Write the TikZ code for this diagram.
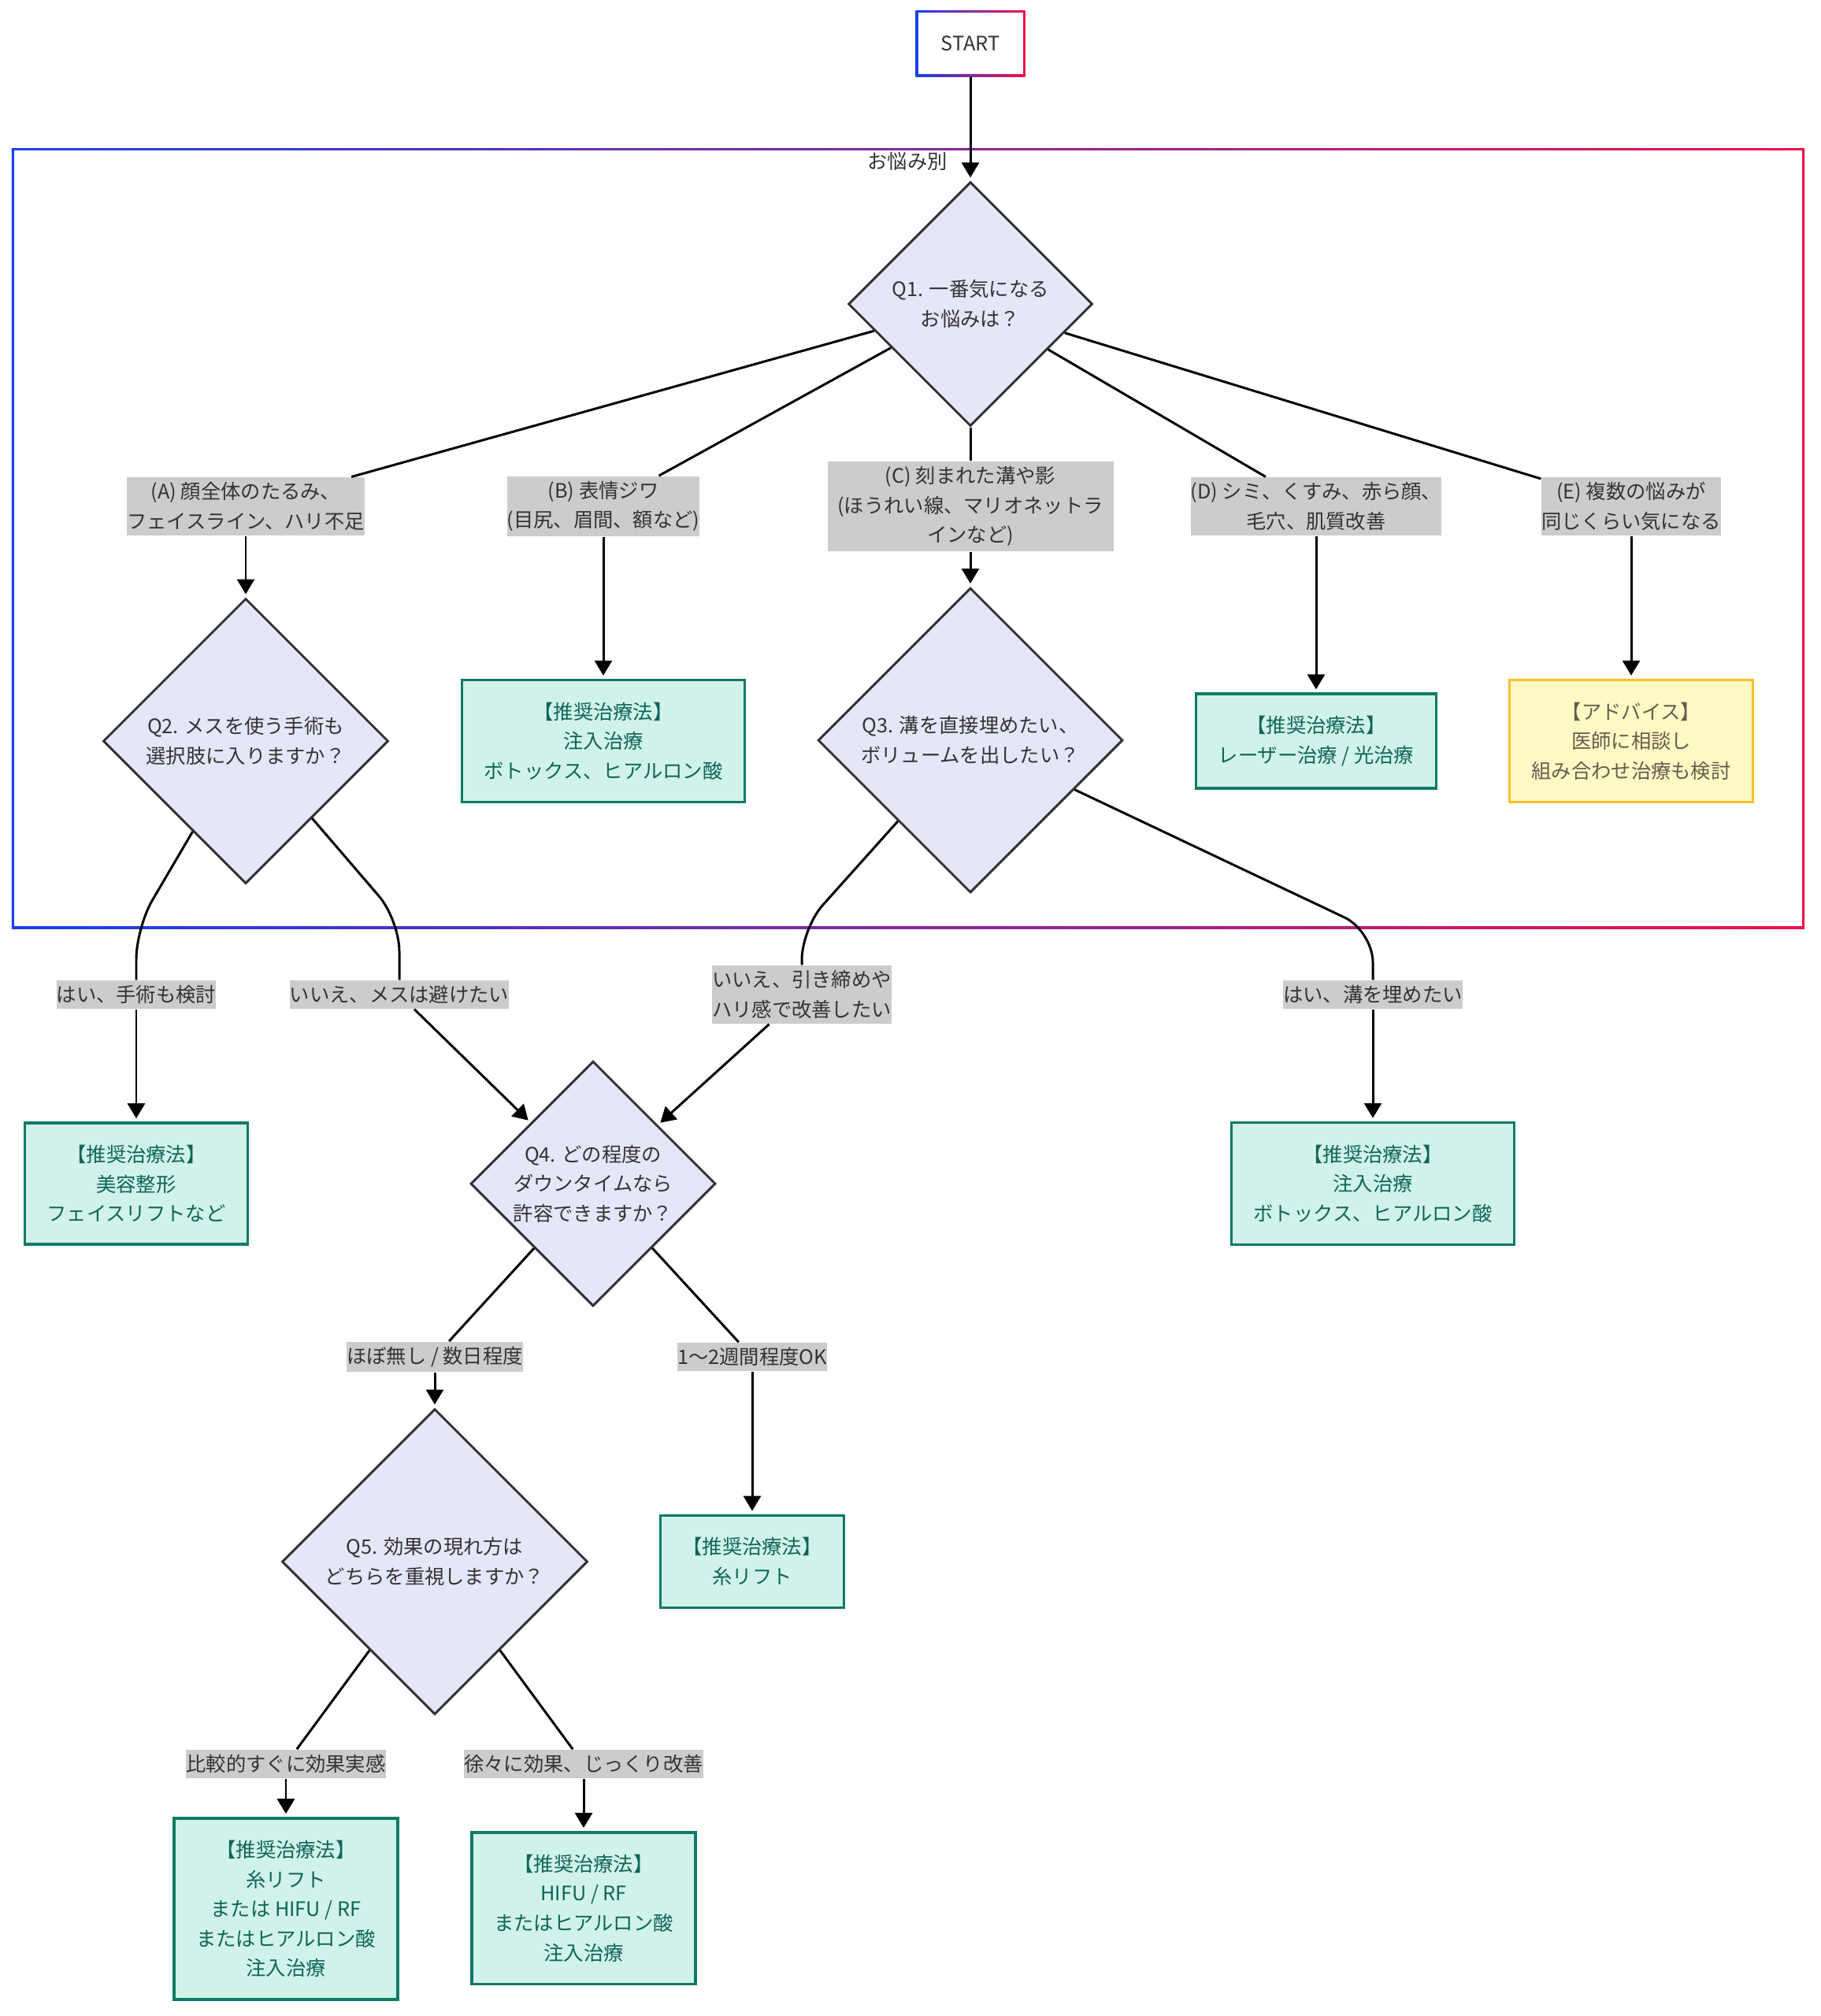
\documentclass[tikz,border=0pt]{standalone}
\usepackage{fontspec}
\setmainfont{Noto Sans CJK JP}
\usetikzlibrary{arrows.meta,shapes.geometric}
\definecolor{gblue}{HTML}{1A3FF0}
\definecolor{gred}{HTML}{F0104A}
\definecolor{qfill}{HTML}{E6E6FA}
\definecolor{qline}{HTML}{333333}
\definecolor{tfill}{HTML}{D1F2EB}
\definecolor{tline}{HTML}{117A65}
\definecolor{ttext}{HTML}{0E6655}
\definecolor{afill}{HTML}{FFF9C4}
\definecolor{aline}{HTML}{FBC02D}
\definecolor{atext}{HTML}{6B5A4E}
\definecolor{lfill}{HTML}{CCCCCC}
\definecolor{dtext}{HTML}{333333}

\begin{document}
\begin{tikzpicture}[
    font=\fontsize{7.2pt}{10.7pt}\selectfont,
    gradbox/.style={inner sep=0pt, text=dtext, path picture={
        \shade[left color=gblue, right color=gred] (path picture bounding box.south west) rectangle (path picture bounding box.north east);
        \fill[white] ([shift={(0.03,0.03)}]path picture bounding box.south west) rectangle ([shift={(-0.03,-0.03)}]path picture bounding box.north east);}},
    qnode/.style={diamond, aspect=1, draw=qline, line width=0.85pt, fill=qfill, text=dtext, align=center, inner sep=0pt},
    lbl/.style={fill=lfill, text=dtext, align=center, inner xsep=0pt, inner ysep=1.8pt},
    treat/.style={draw=tline, line width=1pt, fill=tfill, text=ttext, align=center, inner sep=8pt},
    advice/.style={draw=aline, line width=1pt, fill=afill, text=atext, align=center, inner sep=8pt},
    flow/.style={line width=0.85pt, black},
    flowarr/.style={flow, -{Triangle[length=0.19cm, width=0.22cm]}, shorten >=0.04cm}
]
    \useasboundingbox (0,0) rectangle (23.11,-25.60);

    \node[gradbox, minimum width=1.39cm, minimum height=0.84cm] (start) at (12.32,-0.55) {START};
    \node[gradbox, minimum width=22.76cm, minimum height=9.91cm] (grp) at (11.53,-6.835) {};
    \node[text=dtext] (grplbl) at (11.52,-2.05) {お悩み別};

    \node[qnode, minimum size=3.1cm] (q1) at (12.32,-3.86) {Q1. 一番気になる\\お悩みは？};

    \node[lbl] (lA) at (3.12,-6.43) {(A) 顔全体のたるみ、\\フェイスライン、ハリ不足};
    \node[lbl] (lB) at (7.66,-6.43) {(B) 表情ジワ\\(目尻、眉間、額など)};
    \node[lbl, minimum width=3.63cm] (lC) at (12.32,-6.43) {(C) 刻まれた溝や影\\(ほうれい線、マリオネットラ\\インなど)};
    \node[lbl] (lD) at (16.71,-6.43) {(D) シミ、くすみ、赤ら顔、\\毛穴、肌質改善};
    \node[lbl] (lE) at (20.71,-6.43) {(E) 複数の悩みが\\同じくらい気になる};

    \node[qnode, minimum size=3.62cm] (q2) at (3.12,-9.41) {Q2. メスを使う手術も\\選択肢に入りますか？};
    \node[treat] (rB) at (7.66,-9.41) {【推奨治療法】\\注入治療\\ボトックス、ヒアルロン酸};
    \node[qnode, minimum size=3.87cm] (q3) at (12.32,-9.40) {Q3. 溝を直接埋めたい、\\ボリュームを出したい？};
    \node[treat] (rD) at (16.71,-9.41) {【推奨治療法】\\レーザー治療 / 光治療};
    \node[advice] (rE) at (20.71,-9.41) {【アドバイス】\\医師に相談し\\組み合わせ治療も検討};

    \node[lbl] (lYes2) at (1.73,-12.63) {はい、手術も検討};
    \node[lbl] (lNo2) at (5.07,-12.63) {いいえ、メスは避けたい};
    \node[lbl] (lNo3) at (10.18,-12.63) {いいえ、引き締めや\\ハリ感で改善したい};
    \node[lbl] (lYes3) at (17.43,-12.63) {はい、溝を埋めたい};

    \node[treat] (rSurg) at (1.73,-15.03) {【推奨治療法】\\美容整形\\フェイスリフトなど};
    \node[qnode, minimum size=3.11cm] (q4) at (7.53,-15.03) {Q4. どの程度の\\ダウンタイムなら\\許容できますか？};
    \node[treat] (rFill) at (17.43,-15.03) {【推奨治療法】\\注入治療\\ボトックス、ヒアルロン酸};

    \node[lbl] (lQ4a) at (5.52,-17.23) {ほぼ無し / 数日程度};
    \node[lbl] (lQ4b) at (9.55,-17.23) {1〜2週間程度OK};

    \node[qnode, minimum size=3.88cm] (q5) at (5.52,-19.83) {Q5. 効果の現れ方は\\どちらを重視しますか？};
    \node[treat] (rThread) at (9.55,-19.83) {【推奨治療法】\\糸リフト};

    \node[lbl] (lQ5a) at (3.63,-22.40) {比較的すぐに効果実感};
    \node[lbl] (lQ5b) at (7.41,-22.40) {徐々に効果、じっくり改善};

    \node[treat] (rQ5a) at (3.63,-24.24) {【推奨治療法】\\糸リフト\\または HIFU / RF\\またはヒアルロン酸\\注入治療};
    \node[treat] (rQ5b) at (7.41,-24.23) {【推奨治療法】\\HIFU / RF\\またはヒアルロン酸\\注入治療};

    \coordinate (c2y) at (1.73,-11.78);
    \coordinate (c2n) at (5.07,-11.68);
    \coordinate (c3n) at (10.18,-11.79);
    \coordinate (c3y) at (17.43,-11.82);

    \draw[flowarr] (start) -- (q1);

    \draw[flow] (q1) -- (lA);
    \draw[flowarr] (lA) -- (q2);
    \draw[flow] (q1) -- (lB);
    \draw[flowarr] (lB) -- (rB);
    \draw[flow] (q1) -- (lC);
    \draw[flowarr] (lC) -- (q3);
    \draw[flow] (q1) -- (lD);
    \draw[flowarr] (lD) -- (rD);
    \draw[flow] (q1) -- (lE);
    \draw[flowarr] (lE) -- (rE);

    \draw[flow, rounded corners=0.4cm] (q2) -- (c2y) -- (lYes2);
    \draw[flowarr] (lYes2) -- (rSurg);
    \draw[flow, rounded corners=0.4cm] (q2) -- (c2n) -- (lNo2);
    \draw[flowarr] (lNo2) -- (q4);
    \draw[flow, rounded corners=0.4cm] (q3) -- (c3n) -- (lNo3);
    \draw[flowarr] (lNo3) -- (q4);
    \draw[flow, rounded corners=0.4cm] (q3) -- (c3y) -- (lYes3);
    \draw[flowarr] (lYes3) -- (rFill);

    \draw[flow] (q4) -- (lQ4a);
    \draw[flowarr] (lQ4a) -- (q5);
    \draw[flow] (q4) -- (lQ4b);
    \draw[flowarr] (lQ4b) -- (rThread);

    \draw[flow] (q5) -- (lQ5a);
    \draw[flowarr] (lQ5a) -- (rQ5a);
    \draw[flow] (q5) -- (lQ5b);
    \draw[flowarr] (lQ5b) -- (rQ5b);
\end{tikzpicture}
\end{document}
